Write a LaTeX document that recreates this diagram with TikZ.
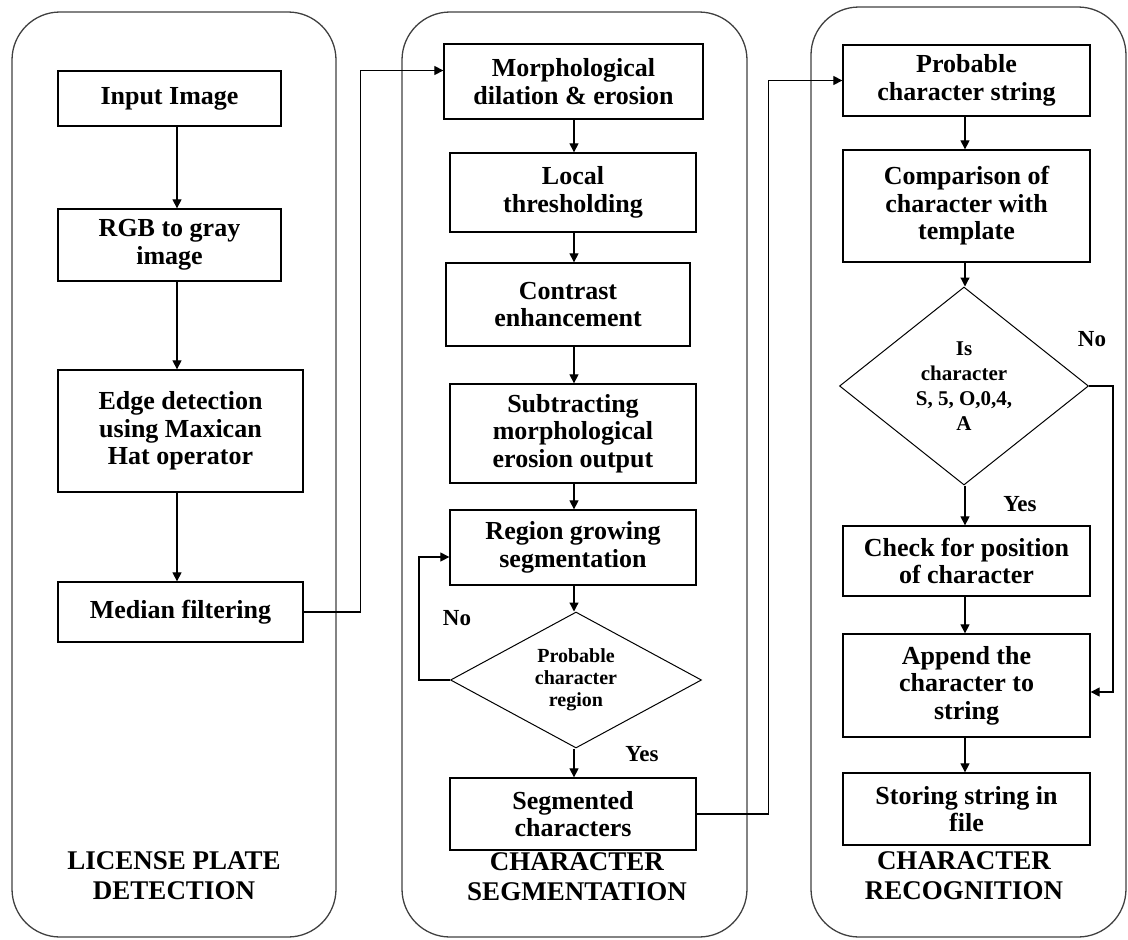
\documentclass[tikz,border=0pt]{standalone}
\usepackage{fontspec}
\setmainfont{Liberation Serif}
\usetikzlibrary{arrows.meta,positioning,shapes.geometric}
\tikzset{
  panel/.style={draw=black!75, line width=1.3pt, rounded corners=48pt},
  box/.style={draw, line width=1.3pt, align=center, inner sep=2pt,
              font=\fontsize{26}{27.5}\selectfont\bfseries},
  dec/.style={draw, diamond, line width=1pt, align=center, inner sep=0pt,
              font=\fontsize{20}{22}\selectfont\bfseries},
  arrow/.style={-{Triangle[length=9pt,width=9pt]}, line width=1.2pt},
  lbl/.style={font=\fontsize{23}{25}\selectfont\bfseries},
  title/.style={align=center, font=\fontsize{27}{30}\selectfont\bfseries},
}
\begin{document}
\begin{tikzpicture}[x=1pt, y=-1pt]
  \useasboundingbox (0,0) rectangle (1128,940);
  \draw[panel] (12,12) rectangle (336,937);
  \draw[panel] (402,12) rectangle (747,937);
  \draw[panel] (811,7) rectangle (1126,937);

  \coordinate (c1) at (177,0);
  \coordinate (c2) at (574,0);
  \coordinate (c3) at (965,0);

  \node[box, minimum width=223pt, minimum height=55pt] (in) at (169.5,98.5) {Input Image};
  \node[box, minimum width=223pt, minimum height=72pt] (rgb) at (169.5,245) {RGB to gray\\image};
  \node[box, minimum width=245pt, minimum height=122pt] (edge) at (180.5,431) {Edge detection\\using Maxican\\Hat operator};
  \node[box, minimum width=245pt, minimum height=60pt] (med) at (180.5,612) {Median filtering};
  \node[title] (t1) at (174,876) {LICENSE PLATE\\DETECTION};

  \node[box, minimum width=259pt, minimum height=75pt] (morph) at (573.5,81.5) {Morphological\\dilation \& erosion};
  \node[box, minimum width=246pt, minimum height=79pt] (local) at (573,192.5) {Local\\thresholding};
  \node[box, minimum width=244pt, minimum height=83pt] (contr) at (568,304.5) {Contrast\\enhancement};
  \node[box, minimum width=246pt, minimum height=99pt] (subtr) at (573,433.5) {Subtracting\\morphological\\erosion output};
  \node[box, minimum width=246pt, minimum height=75pt] (region) at (573,547.5) {Region growing\\segmentation};
  \node[dec, aspect=1.85, minimum width=251pt, minimum height=136pt] (dec1) at (576,680) {Probable\\character\\region};
  \node[box, minimum width=246pt, minimum height=72pt] (seg) at (573,814) {Segmented\\characters};
  \node[lbl] (no1) at (457,618) {No};
  \node[lbl] (yes1) at (642,754) {Yes};
  \node[title] (t2) at (577,877) {CHARACTER\\SEGMENTATION};

  \node[box, minimum width=247pt, minimum height=71pt] (prob) at (966.5,80.5) {Probable\\character string};
  \node[box, minimum width=247pt, minimum height=112pt] (comp) at (966.5,206) {Comparison of\\character with\\template};
  \node[dec, aspect=1.26, minimum width=249pt, minimum height=198pt, font=\fontsize{21}{25}\selectfont\bfseries] (dec2) at (964,386) {Is\\character\\S, 5, O,0,4,\\A};
  \node[box, minimum width=247pt, minimum height=70pt] (check) at (966.5,561) {Check for position\\of character};
  \node[box, minimum width=247pt, minimum height=103pt] (app) at (966.5,685.5) {Append the\\character to\\string};
  \node[box, minimum width=247pt, minimum height=72pt] (store) at (966.5,809) {Storing string in\\file};
  \node[lbl] (no2) at (1092,339) {No};
  \node[lbl] (yes2) at (1020,504) {Yes};
  \node[title] (t3) at (964,876) {CHARACTER\\RECOGNITION};

  \foreach \a/\b in {in/rgb, rgb/edge, edge/med}
    \draw[arrow] (\a.south -| c1) -- (\b.north -| c1);
  \foreach \a/\b in {morph/local, local/contr, contr/subtr, subtr/region, region/dec1, dec1/seg}
    \draw[arrow] (\a.south -| c2) -- (\b.north -| c2);
  \foreach \a/\b in {prob/comp, comp/dec2, dec2/check, check/app, app/store}
    \draw[arrow] (\a.south -| c3) -- (\b.north -| c3);

  \draw[arrow] (med.east) -- ++(57,0) |- ([yshift=11pt]morph.west);
  \draw[arrow] (seg.east) -- ++(72,0) |- (prob.west);
  \draw[arrow] (dec1.west) -- ++(-31,0) |- ([yshift=-9.5pt]region.west);
  \draw[arrow] (dec2.east) -- ++(24,0) |- ([yshift=-6.5pt]app.east);
\end{tikzpicture}
\end{document}
